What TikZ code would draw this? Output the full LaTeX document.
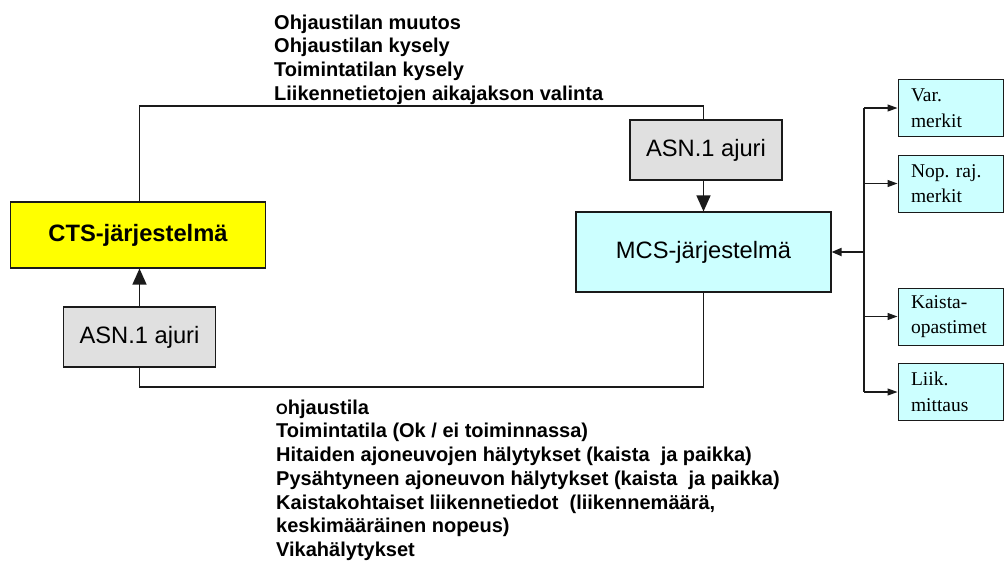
\documentclass[tikz,border=0pt]{standalone}
\usepackage{fontspec}
\setmainfont{Liberation Sans}
\newfontfamily\serifbox{Liberation Serif}
\usetikzlibrary{arrows.meta}
\definecolor{ctsyellow}{HTML}{FFFF00}
\definecolor{mcscyan}{HTML}{CCFFFF}
\definecolor{drvgray}{HTML}{E0E0E0}
\definecolor{edge}{HTML}{1A1A1A}
\frenchspacing

\begin{document}
\begin{tikzpicture}[x=1pt,y=-1pt,
  sysbox/.style={draw=edge, line width=1.1pt, inner sep=0pt,
    font=\fontsize{23.7}{26}\selectfont},
  ctsbox/.style={sysbox, fill=ctsyellow, minimum width=255, minimum height=66,
    font=\bfseries\fontsize{23.7}{26}\selectfont},
  mcsbox/.style={sysbox, fill=mcscyan, minimum width=255, minimum height=80},
  driver/.style={sysbox, fill=drvgray, minimum width=152, minimum height=60},
  device/.style={draw=edge, line width=1pt, fill=mcscyan, inner xsep=13pt, inner ysep=0pt,
    text width=79pt, minimum height=57, align=left,
    font=\serifbox\fontsize{19.5}{25.5}\selectfont},
  msglist/.style={anchor=north west, inner sep=0pt, align=left,
    font=\bfseries\fontsize{20}{23.7}\selectfont},
  link/.style={draw=edge, line width=1.2pt},
  bigarrow/.style={link, -{Triangle[length=16pt,width=14pt]}},
  smallarrow/.style={link, -{Triangle[length=10pt,width=7pt]}}
]
\useasboundingbox (0,0) rectangle (1004,563);

% main systems and protocol drivers
\node[ctsbox] (cts) at (138,235) {CTS-järjestelmä};
\node[mcsbox] (mcs) at (703.5,252) {MCS-järjestelmä};
\node[driver] (asntop) at (706,150) {ASN.1 ajuri};
\node[driver] (asnbot) at (139.5,337) {ASN.1 ajuri};

% roadside devices
\node[device] (var) at (950.5,108) {Var.\\merkit};
\node[device] (nop) at (950.5,183.5) {Nop. raj.\\merkit};
\node[device] (kai) at (950.5,316.5) {Kaista-\\opastimet};
\node[device] (liik) at (950.5,392) {Liik.\\mittaus};

% routing helpers
\coordinate (topline) at (0,106);
\coordinate (botline) at (0,387);
\coordinate (bus) at (864,0);

% CTS -> driver -> MCS
\draw[link] (asnbot.north |- cts.north) -- (asnbot.north |- topline) -| (asntop.north -| mcs.north);
\draw[bigarrow] (asntop.south -| mcs.north) -- (mcs.north);

% MCS -> driver -> CTS
\draw[link] (mcs.south) |- (botline -| asnbot.south) -- (asnbot.south);
\draw[bigarrow] (asnbot.north) -- (asnbot.north |- cts.south);

% device bus
\draw[link] (bus |- var.west) -- (bus |- liik.west);
\draw[link, line width=1.8pt, -{Triangle[length=10pt,width=8pt]}] (bus |- mcs.east) -- (mcs.east);
\foreach \d in {var,nop,kai,liik}
  \draw[smallarrow] (bus |- \d.west) -- (\d.west);

% message lists
\node[msglist] (cmds) at (274,14.5)
  {Ohjaustilan muutos\\Ohjaustilan kysely\\Toimintatilan kysely\\Liikennetietojen aikajakson valinta};
\node[msglist] (status) at (276,399.5)
  {{\fontsize{15}{15}\selectfont O}hjaustila\\
   Toimintatila (Ok / ei toiminnassa)\\
   Hitaiden ajoneuvojen hälytykset (kaista \ ja paikka)\\
   Pysähtyneen ajoneuvon hälytykset (kaista \ ja paikka)\\
   Kaistakohtaiset liikennetiedot \ (liikennemäärä,\\
   keskimääräinen nopeus)\\
   Vikahälytykset};
\end{tikzpicture}
\end{document}
